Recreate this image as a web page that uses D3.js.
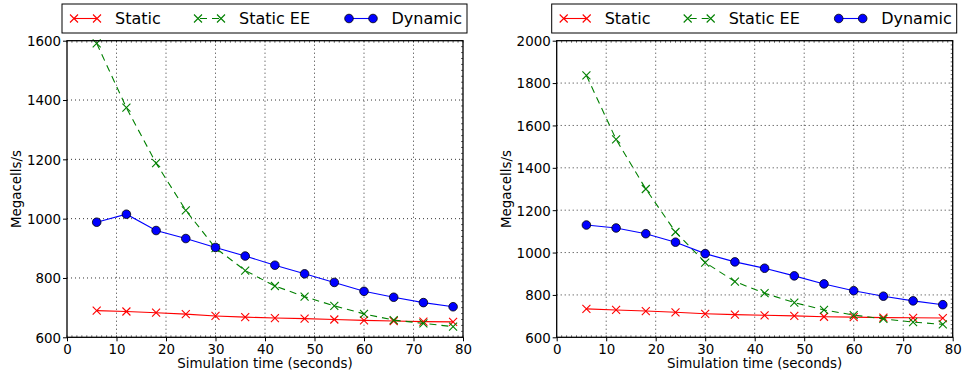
<!DOCTYPE html>
<html>
<head>
<meta charset="utf-8">
<script src="https://cdn.jsdelivr.net/npm/d3@7"></script>
<style>
  html, body { margin: 0; padding: 0; background: #fff; }
  svg { display: block; font-family: "DejaVu Sans", sans-serif; }
</style>
</head>
<body>
<svg id="chart" width="963" height="374"></svg>
<script>
// ---- data ----
const times = [6, 12, 18, 24, 30, 36, 42, 48, 54, 60, 66, 72, 78];
const seriesNames = ["Static", "Static EE", "Dynamic"];

// Left panel
const leftStatic   = [690, 687, 683, 678, 672, 668, 665, 663, 660, 657, 655, 653, 652];
const leftStaticEE = [1591, 1374, 1187, 1028, 901, 825, 773, 737, 706, 679, 658, 647, 636];
const leftDynamic  = [988, 1015, 960, 933, 903, 874, 843, 814, 785, 755, 735, 717, 703];

// Right panel
const rightStatic   = [734, 729, 724, 718, 711, 707, 704, 701, 697, 695, 693, 692, 691];
const rightStaticEE = [1836, 1534, 1300, 1097, 953, 863, 808, 764, 729, 705, 687, 672, 661];
const rightDynamic  = [1130, 1116, 1089, 1049, 995, 956, 926, 890, 852, 820, 794, 772, 754];

const xTicks = [0, 10, 20, 30, 40, 50, 60, 70, 80];
const leftYTicks = [600, 800, 1000, 1200, 1400, 1600];
const rightYTicks = [600, 800, 1000, 1200, 1400, 1600, 1800, 2000];

const xLabel = "Simulation time (seconds)";
const yLabel = "Megacells/s";

// ---- drawing ----
const svg = d3.select("#chart");
const colors = { "Static": "#ff0000", "Static EE": "#008000", "Dynamic": "#0000ff" };

function crossPath(s) {
  return `M${-s},${-s}L${s},${s}M${-s},${s}L${s},${-s}`;
}

function drawMarker(g, name, x, y) {
  if (name === "Dynamic") {
    g.append("circle").attr("cx", x).attr("cy", y).attr("r", 4.3)
      .attr("fill", colors[name]).attr("stroke", "#000").attr("stroke-width", 0.8);
  } else {
    g.append("path").attr("transform", `translate(${x},${y})`)
      .attr("d", crossPath(4)).attr("fill", "none")
      .attr("stroke", colors[name]).attr("stroke-width", 1.1);
  }
}

function panel(opts) {
  const { x0, x1, yTop, yBot, yDomain, yTicks, data } = opts;
  const g = svg.append("g");
  const x = d3.scaleLinear().domain([0, 80]).range([x0, x1]);
  const y = d3.scaleLinear().domain(yDomain).range([yBot, yTop]);

  // grid
  const grid = g.append("g");
  xTicks.slice(1, -1).forEach(t => {
    grid.append("line").attr("x1", x(t)).attr("x2", x(t)).attr("y1", yTop).attr("y2", yBot)
      .attr("stroke", "#000").attr("stroke-width", 0.8).attr("stroke-dasharray", "1,3");
  });
  yTicks.slice(1, -1).forEach(t => {
    grid.append("line").attr("y1", y(t)).attr("y2", y(t)).attr("x1", x0).attr("x2", x1)
      .attr("stroke", "#000").attr("stroke-width", 0.8).attr("stroke-dasharray", "1,3");
  });

  // series
  const line = d3.line().x((d, i) => x(times[i])).y(d => y(d));
  const clipId = "clip" + Math.round(x0);
  g.append("clipPath").attr("id", clipId).append("rect")
    .attr("x", x0).attr("y", yTop).attr("width", x1 - x0).attr("height", yBot - yTop);
  const plotG = g.append("g");
  seriesNames.forEach(name => {
    const vals = data[name];
    plotG.append("path").datum(vals).attr("d", line).attr("fill", "none")
      .attr("stroke", colors[name]).attr("stroke-width", 1.1)
      .attr("stroke-dasharray", name === "Static EE" ? "7,5" : null)
      .attr("clip-path", `url(#${clipId})`);
    vals.forEach((v, i) => drawMarker(plotG, name, x(times[i]), y(v)));
  });

  // axes
  const xAxis = d3.axisBottom(x).tickValues(xTicks).tickSize(4).tickPadding(3).tickFormat(d3.format("d"));
  const yAxis = d3.axisLeft(y).tickValues(yTicks).tickSize(4).tickPadding(2).tickFormat(d3.format("d"));
  const xa = g.append("g").attr("transform", `translate(0,${yBot})`).call(xAxis);
  const ya = g.append("g").attr("transform", `translate(${x0},0)`).call(yAxis);
  [xa, ya].forEach(a => {
    a.select(".domain").remove();
    a.selectAll("text").attr("font-size", "13.4px").attr("fill", "#000")
      .attr("font-family", "DejaVu Sans, sans-serif");
    a.selectAll("line").attr("stroke", "#000");
  });
  ya.selectAll("text").attr("dy", "0.36em");

  // minor ticks inside
  const minor = g.append("g");
  d3.range(0, 81, 1).forEach(t => {
    minor.append("line").attr("x1", x(t)).attr("x2", x(t)).attr("y1", yBot).attr("y2", yBot - 2)
      .attr("stroke", "#000").attr("stroke-width", 0.6);
    minor.append("line").attr("x1", x(t)).attr("x2", x(t)).attr("y1", yTop).attr("y2", yTop + 2)
      .attr("stroke", "#000").attr("stroke-width", 0.6);
  });
  d3.range(yDomain[0], yDomain[1] + 1, 20).forEach(t => {
    minor.append("line").attr("y1", y(t)).attr("y2", y(t)).attr("x1", x1).attr("x2", x1 - 2)
      .attr("stroke", "#000").attr("stroke-width", 0.6);
  });

  // frame
  g.append("rect").attr("x", x0).attr("y", yTop).attr("width", x1 - x0).attr("height", yBot - yTop)
    .attr("fill", "none").attr("stroke", "#000").attr("stroke-width", 1.3);

  // labels
  g.append("text").attr("x", (x0 + x1) / 2).attr("y", 368).attr("text-anchor", "middle")
    .attr("font-size", "13.4px").text(xLabel);
  g.append("text").attr("transform", `translate(${x0 - 46},${(yTop + yBot) / 2}) rotate(-90)`)
    .attr("text-anchor", "middle").attr("font-size", "13.4px").text(yLabel);

  // legend
  const lx = x0 - 5, ly = 4;
  const lg = g.append("g");
  lg.append("rect").attr("x", lx).attr("y", ly).attr("width", 405).attr("height", 29)
    .attr("fill", "#fff").attr("stroke", "#000").attr("stroke-width", 1);
  const entries = [
    { name: "Static", m1: 12, m2: 35, t: 53 },
    { name: "Static EE", m1: 136, m2: 159, t: 177 },
    { name: "Dynamic", m1: 287, m2: 311, t: 329.5 }
  ];
  const cy = ly + 14.5;
  entries.forEach(e => {
    lg.append("line").attr("x1", lx + e.m1).attr("x2", lx + e.m2).attr("y1", cy).attr("y2", cy)
      .attr("stroke", colors[e.name]).attr("stroke-width", 1.1)
      .attr("stroke-dasharray", e.name === "Static EE" ? "7,5" : null)
      .attr("stroke-dashoffset", e.name === "Static EE" ? -2 : null);
    drawMarker(lg, e.name, lx + e.m1, cy);
    drawMarker(lg, e.name, lx + e.m2, cy);
    lg.append("text").attr("x", lx + e.t).attr("y", cy).attr("dy", "0.36em")
      .attr("font-size", "16px").text(e.name);
  });
}

panel({
  x0: 67, x1: 463, yTop: 40.7, yBot: 337.3, yDomain: [600, 1600], yTicks: leftYTicks,
  data: { "Static": leftStatic, "Static EE": leftStaticEE, "Dynamic": leftDynamic }
});
panel({
  x0: 556.7, x1: 952.7, yTop: 40.7, yBot: 337.3, yDomain: [600, 2000], yTicks: rightYTicks,
  data: { "Static": rightStatic, "Static EE": rightStaticEE, "Dynamic": rightDynamic }
});
</script>
</body>
</html>
